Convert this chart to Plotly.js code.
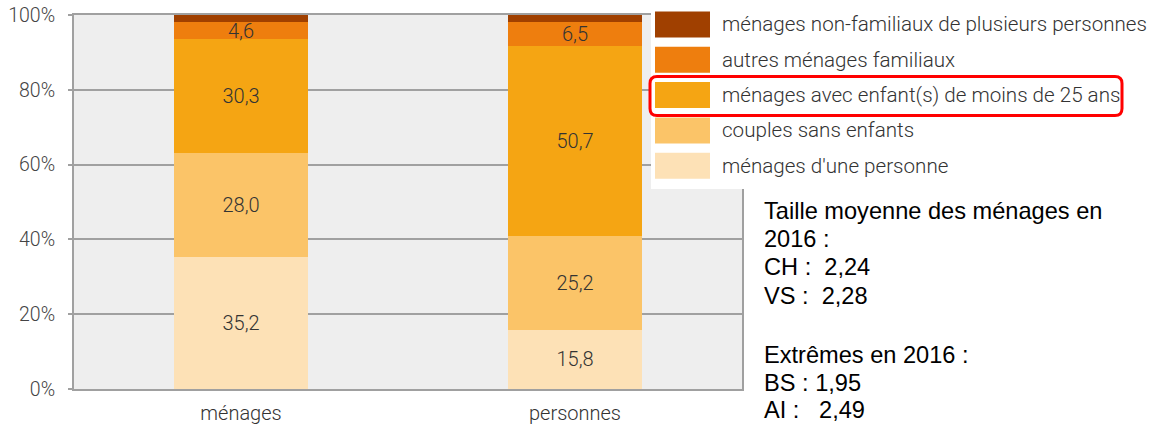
<!DOCTYPE html>
<html><head><meta charset="utf-8">
<script src="https://cdn.plot.ly/plotly-3.0.1.min.js"></script>
<style>html,body{margin:0;padding:0;background:#fff;} #chart{width:1172px;height:428px;}</style>
</head><body><div id="chart"></div>
<script>
// ---- data ----
const categories = ['ménages', 'personnes'];
const seriesNames = [
  "ménages d'une personne",
  'couples sans enfants',
  'ménages avec enfant(s) de moins de 25 ans',
  'autres ménages familiaux',
  'ménages non-familiaux de plusieurs personnes'
];
const onePerson     = [35.2, 15.8];
const couplesNoKids = [28.0, 25.2];
const withKids      = [30.3, 50.7];
const otherFamily   = [4.6, 6.5];
const nonFamily     = [1.9, 1.8];
const seriesValues = [onePerson, couplesNoKids, withKids, otherFamily, nonFamily];
const showLabel = [true, true, true, true, false];
const colors = ['#FDE1B6', '#FBC468', '#F5A513', '#EE7E0E', '#A04000'];
const yTickVals = [0, 20, 40, 60, 80, 100];
const yTickText = ['0%', '20%', '40%', '60%', '80%', '100%'];
const highlightedSeries = 2;
const noteLines = [
  'Taille moyenne des ménages en',
  '2016 :',
  'CH :  2,24',
  'VS :  2,28',
  '',
  'Extrêmes en 2016 :',
  'BS : 1,95',
  'AI :   2,49'
];

// ---- layout helpers (pixel -> paper) ----
const L = 74, R = 742, T = 15, B = 389;
const px = v => (v - L) / (R - L);
const py = v => (B - v) / (B - T);

const fmt = v => v.toFixed(1).replace('.', ',');
const labelFont = {family: 'Roboto, sans-serif', size: 20, color: '#333333', weight: 300};

const traces = seriesValues.map((vals, i) => ({
  type: 'bar',
  name: seriesNames[i],
  x: categories,
  y: vals,
  marker: {color: colors[i], line: {width: 0}},
  text: showLabel[i] ? vals.map(fmt) : vals.map(() => ''),
  textposition: 'inside',
  insidetextanchor: 'middle',
  textangle: 0,
  constraintext: 'none',
  textfont: labelFont,
  hoverinfo: 'none',
  showlegend: false
}));

const shapes = [];
const annotations = [];
// legend background
shapes.push({type: 'rect', xref: 'paper', yref: 'paper', layer: 'above',
  x0: px(651), x1: px(1172), y0: py(189), y1: py(-2),
  fillcolor: '#ffffff', line: {width: 0}});
// legend entries (top = last series)
const order = [4, 3, 2, 1, 0];
order.forEach((si, row) => {
  const top = 11.5 + row * 35.3;
  shapes.push({type: 'rect', xref: 'paper', yref: 'paper', layer: 'above',
    x0: px(655), x1: px(710), y0: py(top + 26), y1: py(top),
    fillcolor: colors[si], line: {width: 0}});
  annotations.push({xref: 'paper', yref: 'paper', x: px(719.5), y: py(top + 13),
    xanchor: 'left', yanchor: 'middle', showarrow: false,
    text: seriesNames[si], font: {family: 'Roboto, sans-serif', size: 20.6, color: '#333333', weight: 300}});
});
// highlight box around one legend entry
(function(){
  const row = order.indexOf(highlightedSeries);
  const top = 11.5 + row * 35.3;
  const x0 = px(650), x1 = px(1122), y0 = py(top + 33.5), y1 = py(top - 5.5);
  const rx = 7 / (R - L), ry = 7 / (B - T);
  const path = `M${x0 + rx},${y1} L${x1 - rx},${y1} Q${x1},${y1} ${x1},${y1 - ry} L${x1},${y0 + ry} Q${x1},${y0} ${x1 - rx},${y0} L${x0 + rx},${y0} Q${x0},${y0} ${x0},${y0 + ry} L${x0},${y1 - ry} Q${x0},${y1} ${x0 + rx},${y1} Z`;
  shapes.push({type: 'path', xref: 'paper', yref: 'paper', layer: 'above', path: path,
    line: {color: '#FF0000', width: 3}});
})();
// note text lines
const noteY = [210.5, 238.5, 267, 295.5, 0, 355, 383, 410.5];
noteLines.forEach((t, i) => {
  if (!t) return;
  annotations.push({xref: 'paper', yref: 'paper', x: px(762.5), y: py(noteY[i]),
    xanchor: 'left', yanchor: 'middle', showarrow: false,
    text: t, font: {family: 'Liberation Sans, Arial, sans-serif', size: 23.6, color: '#000000'}});
});

const layout = {
  width: 1172, height: 428,
  margin: {l: L, r: 1172 - R, t: T, b: 428 - B, pad: 0},
  paper_bgcolor: '#ffffff',
  plot_bgcolor: '#EEEEEE',
  barmode: 'stack',
  bargap: 0.596,
  showlegend: false,
  font: {family: 'Roboto, sans-serif', color: '#444444'},
  xaxis: {
    type: 'category',
    showline: true, mirror: true, linecolor: '#A0A0A0', linewidth: 2,
    showgrid: false, ticks: '', zeroline: false,
    tickfont: {family: 'Roboto, sans-serif', size: 20, color: '#333333', weight: 300},
    ticklabelstandoff: 5
  },
  yaxis: {
    range: [0, 100],
    tickvals: yTickVals, ticktext: yTickText,
    showline: true, mirror: true, linecolor: '#A0A0A0', linewidth: 2,
    showgrid: true, gridcolor: '#A0A0A0', gridwidth: 2,
    zeroline: false,
    ticks: 'outside', ticklen: 4, tickwidth: 2, tickcolor: '#A0A0A0',
    tickfont: {family: 'Roboto, sans-serif', size: 19.5, color: '#444444', weight: 300},
    ticklabelstandoff: 9
  },
  shapes: shapes,
  annotations: annotations
};

Plotly.newPlot('chart', traces, layout, {staticPlot: true, displayModeBar: false});
</script>
</body></html>
